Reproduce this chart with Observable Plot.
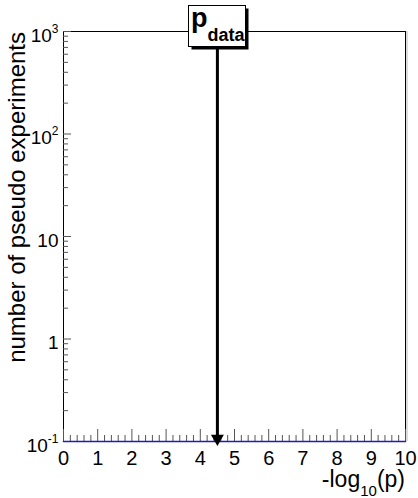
<!DOCTYPE html>
<html><head><meta charset="utf-8">
<script src="https://cdn.jsdelivr.net/npm/d3@7"></script>
<script src="https://cdn.jsdelivr.net/npm/@observablehq/plot@0.6"></script>
<style>
html,body{margin:0;padding:0;background:#fff;}
svg text{font-family:"Liberation Sans",Arial,Helvetica,sans-serif;}
</style></head><body><div id="chart"></div>
<script>
// ---- data ----
const xDomain = [0, 10];
const yDomain = [0.1, 1000];
const binEdges = [0,0.5,1,1.5,2,2.5,3,3.5,4,4.5,5,5.5,6,6.5,7,7.5,8,8.5,9,9.5,10];
const binCounts = [0,0,0,0,0,0,0,0,0,0,0,0,0,0,0,0,0,0,0,0];
const pData = 4.5;
const pLabelMain = "p";
const pLabelSub = "data";
const xMajorTicks = [0,1,2,3,4,5,6,7,8,9,10];
const xTickLabels = ["0","1","2","3","4","5","6","7","8","9","10"];
const xMinorTicks = [0.2,0.4,0.6,0.8,1.2,1.4,1.6,1.8,2.2,2.4,2.6,2.8,3.2,3.4,3.6,3.8,4.2,4.4,4.6,4.8,5.2,5.4,5.6,5.8,6.2,6.4,6.6,6.8,7.2,7.4,7.6,7.8,8.2,8.4,8.6,8.8,9.2,9.4,9.6,9.8];
const yMajorTicks = [0.1,1,10,100,1000];
const yTickLabels = ["10^-1","1","10","10^2","10^3"];
const yMinorTicks = [0.2,0.3,0.4,0.5,0.6,0.7,0.8,0.9,2,3,4,5,6,7,8,9,20,30,40,50,60,70,80,90,200,300,400,500,600,700,800,900];
const yTitle = "number of pseudo experiments";
const xTitleParts = ["-log", "10", "(p)"];

// histogram outline (empty bins sit at the lower edge of the log axis)
const histPts = binEdges.map((e, i) => ({x: e, y: Math.max(binCounts[Math.min(i, binCounts.length - 1)], yDomain[0])}));

const M = {left: 63, right: 13, top: 31, bottom: 57};
const tickColor = "#555";

const plot = Plot.plot({
  width: 418, height: 498,
  marginLeft: M.left, marginRight: M.right, marginTop: M.top, marginBottom: M.bottom,
  style: {fontFamily: "Liberation Sans, Arial, sans-serif", background: "white", overflow: "visible"},
  x: {domain: xDomain},
  y: {type: "log", domain: yDomain},
  marks: [
    Plot.frame({stroke: "#000", strokeWidth: 1}),
    Plot.ruleX([xDomain[1]], {y1: yDomain[0], y2: yDomain[1], dx: 1.5, stroke: "#bbb", strokeWidth: 1}),
    // inward ticks
    Plot.axisX({ticks: xMinorTicks, tickSize: 6, dy: -6, fill: "none", stroke: tickColor, label: null}),
    Plot.axisX({ticks: xMajorTicks, tickSize: 12, dy: -12, fill: "none", stroke: tickColor, label: null}),
    Plot.axisY({ticks: yMinorTicks, tickSize: 5, dx: 5, fill: "none", stroke: tickColor, label: null}),
    Plot.axisY({ticks: yMajorTicks, tickSize: 8, dx: 8, fill: "none", stroke: tickColor, label: null}),
    // tick labels
    Plot.axisX({ticks: xMajorTicks, tickSize: 0, tickPadding: 9, fontSize: 20, fill: "#000",
      tickFormat: d => xTickLabels[xMajorTicks.indexOf(d)], label: null}),
    Plot.axisY({ticks: yMajorTicks, tickSize: 0, tickPadding: 5, dy: 4, fontSize: 19, fill: "#000",
      tickFormat: d => yTickLabels[yMajorTicks.indexOf(d)], label: null}),
    // histogram
    Plot.line(histPts, {x: "x", y: "y", curve: "step-after", stroke: "#1c1cc0", strokeWidth: 1.6}),
    // p_data arrow
    Plot.ruleX([pData], {y1: yDomain[0], y2: yDomain[1], stroke: "#000", strokeWidth: 3}),
    Plot.dot([pData], {x: d => d, y: yDomain[0], symbol: "triangle", rotate: 180, r: 4.8, fill: "#000", stroke: "none", dy: -3})
  ]
});

document.getElementById("chart").appendChild(plot);
const svg = d3.select(plot);

// superscripts on log-axis labels
svg.selectAll("text").each(function() {
  const t = d3.select(this);
  const s = t.text();
  if (s.includes("^")) {
    const [b, e] = s.split("^");
    t.text(null);
    t.append("tspan").text(b);
    t.append("tspan").attr("font-size", 12).attr("dy", -9).text(e);
  }
});

// y title
svg.append("text")
  .attr("transform", `translate(25,${M.top + 1}) rotate(-90)`)
  .attr("text-anchor", "end")
  .attr("font-size", 24)
  .attr("fill", "#000")
  .text(yTitle);

// x title
const xt = svg.append("text")
  .attr("x", 418 - M.right)
  .attr("y", 487)
  .attr("text-anchor", "end")
  .attr("font-size", 23)
  .attr("fill", "#000");
xt.append("tspan").text(xTitleParts[0]);
xt.append("tspan").attr("font-size", 15).attr("dy", 9).text(xTitleParts[1]);
xt.append("tspan").attr("dy", -9).text(xTitleParts[2]);

// p_data label box
const cx = plot.scale("x").apply(pData);
const bw = 57, bh = 41;
const bx = Math.round(cx - bw / 2), by = M.top - 26;
const g = svg.append("g");
g.append("rect").attr("x", bx + 3.5).attr("y", by + 3.5).attr("width", bw).attr("height", bh).attr("fill", "#000");
g.append("rect").attr("x", bx + 0.5).attr("y", by + 0.5).attr("width", bw).attr("height", bh)
  .attr("fill", "#fff").attr("stroke", "#000").attr("stroke-width", 1);
const lt = g.append("text").attr("x", bx + 3).attr("y", by + 22)
  .attr("text-anchor", "start").attr("font-weight", "bold").attr("fill", "#000");
lt.append("tspan").attr("font-size", 27).text(pLabelMain);
lt.append("tspan").attr("font-size", 18).attr("dy", 14).text(pLabelSub);
</script>
</body></html>
